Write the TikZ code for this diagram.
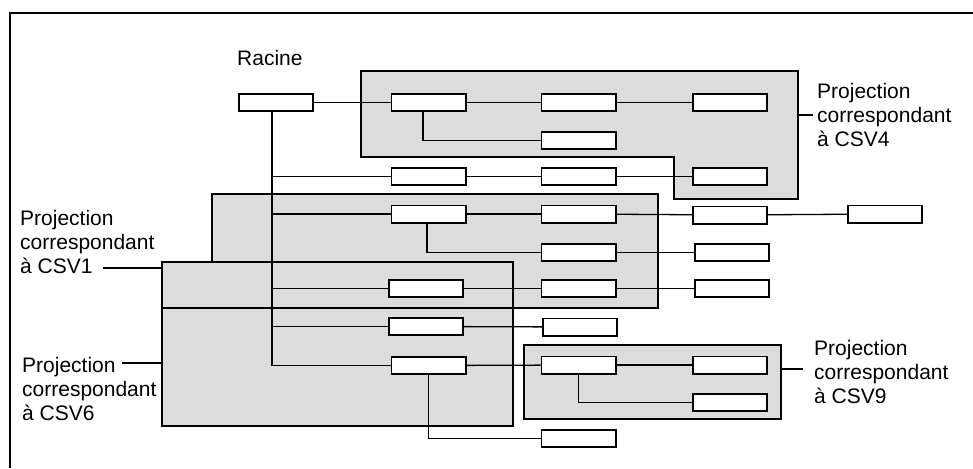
\documentclass[tikz,border=0pt]{standalone}
\usepackage{fontspec}
\setmainfont{Liberation Sans}
\definecolor{regiongray}{RGB}{220,220,220}
\begin{document}
\begin{tikzpicture}[x=1pt,y=-1pt,
  fld/.style={draw,fill=white,line width=1.8pt,minimum width=74.2pt,minimum height=17.2pt,inner sep=0pt},
  link/.style={line width=1.3pt},
  region/.style={line width=1.5pt},
  lbl/.style={anchor=north west,inner sep=0pt,align=left,font=\fontsize{21}{24}\selectfont}]
\useasboundingbox (0,0) rectangle (973,468);
% frame
\draw[line width=1.5pt] (10,468) -- (10,13) -- (973,13);
% regions: fills
\path[fill=regiongray] (361,71) -- (798,71) -- (798,199) -- (674,199) -- (674,157) -- (361,157) -- cycle;
\path[fill=regiongray] (212,194) -- (658,194) -- (658,308) -- (162,308) -- (162,262) -- (212,262) -- cycle;
\path[fill=regiongray] (162,262) rectangle (513,426);
\path[fill=regiongray] (524,345) rectangle (781,419);
% regions: outlines
\draw[region] (361,71) -- (798,71) -- (798,199) -- (674,199) -- (674,157) -- (361,157) -- cycle;
\draw[region] (212,194) -- (658,194) -- (658,308) -- (162,308) -- (162,262) -- (212,262) -- cycle;
\draw[region] (162,262) rectangle (513,426);
\draw[region] (524,345) rectangle (781,419);
% boxes
\node[fld] (root) at (276,102.5) {};
\node[fld] (A)  at (428.5,102.5) {};
\node[fld] (A1) at (578.5,102.5) {};
\node[fld] (A3) at (730,102.5) {};
\node[fld] (A2) at (578.5,140.5) {};
\node[fld] (B)  at (428.5,176.5) {};
\node[fld] (B1) at (578.5,176.5) {};
\node[fld] (B2) at (730,176.5) {};
\node[fld] (C)  at (428.5,214) {};
\node[fld] (C1) at (578.5,214) {};
\node[fld] (C2) at (730,215) {};
\node[fld] (C3) at (885,214) {};
\node[fld] (C4) at (578.5,252.5) {};
\node[fld] (C5) at (732,252.5) {};
\node[fld] (D)  at (426,288.5) {};
\node[fld] (D1) at (578.5,288.5) {};
\node[fld] (D2) at (732,288.5) {};
\node[fld] (E)  at (426,326.5) {};
\node[fld] (E1) at (580,327) {};
\node[fld] (F)  at (428.5,365.5) {};
\node[fld] (F1) at (578.5,365) {};
\node[fld] (F2) at (730,365) {};
\node[fld] (F3) at (730,402.5) {};
\node[fld] (F4) at (578.5,438.5) {};
% links
\coordinate (t) at (272,0);
\draw[link] ([xshift=-4pt]root.south) |- (F.west);
\foreach \n in {B,C,D,E} \draw[link] (\n.west -| t) -- (\n.west);
\draw[link] (root) -- (A);
\draw[link] (A) -- (A1);
\draw[link] (A1) -- (A3);
\draw[link] ([xshift=-5.5pt]A.south) |- (A2.west);
\draw[link] (B) -- (B1);
\draw[link] (B1) -- (B2);
\draw[link] (C) -- (C1);
\draw[link] (C1) -- (C2);
\draw[link] (C2) -- (C3);
\draw[link] ([xshift=-1.5pt]C.south) |- (C4.west);
\draw[link] (C4) -- (C5);
\draw[link] (D) -- (D1);
\draw[link] (D1) -- (D2);
\draw[link] (E) -- (E1);
\draw[link] (F) -- (F1);
\draw[link] (F1) -- (F2);
\draw[link] (F1.south) |- (F3.west);
\draw[link] (F.south) |- (F4.west);
% labels
\node[lbl] (racine) at (237,50) {Racine};
\node[lbl] (l4) at (817,83) {Projection\\correspondant\\à CSV4};
\node[lbl] (l1) at (20,210.5) {Projection\\correspondant\\à CSV1};
\node[lbl] (l6) at (22,357.5) {Projection\\correspondant\\à CSV6};
\node[lbl] (l9) at (814,340.5) {Projection\\correspondant\\à CSV9};
\coordinate (k4a) at (798,115); \coordinate (k4b) at (813,115);
\coordinate (k1a) at (103,268); \coordinate (k1b) at (162,268);
\coordinate (k6a) at (122,363); \coordinate (k6b) at (162,363);
\coordinate (k9a) at (781,369); \coordinate (k9b) at (803,369);
\draw[link] (k4a) -- (k4b);
\draw[link] (k1a) -- (k1b);
\draw[link] (k6a) -- (k6b);
\draw[link] (k9a) -- (k9b);
\end{tikzpicture}
\end{document}
